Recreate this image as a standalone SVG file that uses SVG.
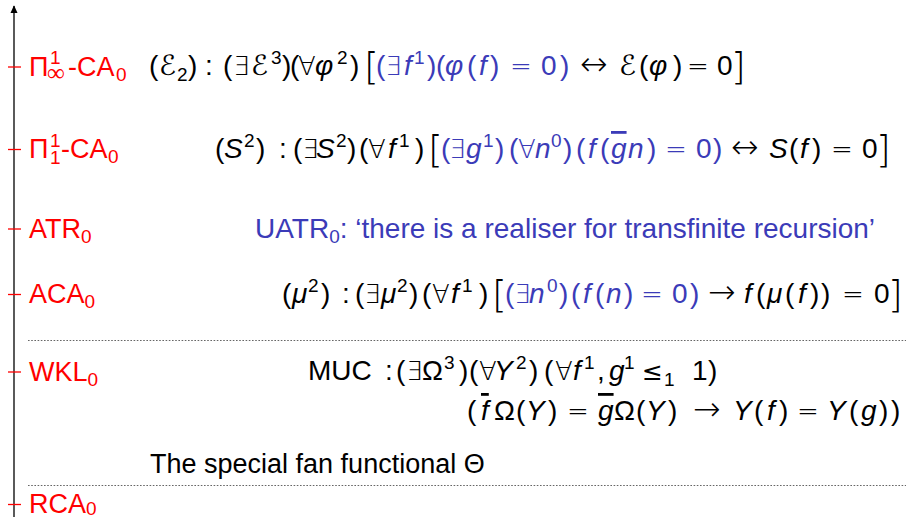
<svg xmlns="http://www.w3.org/2000/svg" width="906" height="517" viewBox="0 0 906 517">
<style>
text{font-family:"Liberation Sans","DejaVu Sans",sans-serif;font-size:28px;fill:#000}
.lab{fill:#ff0000;font-size:27px}
.b{fill:#3b3bb8}
.i{font-style:italic}
.s{font-size:19px}
.m{font-family:"DejaVu Sans",sans-serif;font-size:26px;font-weight:200}
.le{font-family:"DejaVu Sans",sans-serif;font-size:25px}
.ar{font-family:"DejaVu Sans",sans-serif;font-size:33px;font-weight:200}
.br{font-family:"DejaVu Sans",sans-serif;font-size:38px;font-weight:200}
.tick{stroke:#ff0000;stroke-width:1.3}
.dot{stroke:#666;stroke-width:1.2;stroke-dasharray:1.6 1.6}
</style>
<defs>
<marker id="ah" viewBox="0 0 10 10" refX="9" refY="5" markerWidth="8" markerHeight="8" markerUnits="userSpaceOnUse" orient="auto"><path d="M0,0.5 L10,5 L0,9.5 z" fill="#000"/></marker>
</defs>
<g id="connectors">
<line x1="14" y1="517" x2="14" y2="6" stroke="#000" stroke-width="1.3" marker-end="url(#ah)"/>
<line class="dot" x1="28" y1="340.5" x2="906" y2="340.5"/>
<line class="dot" x1="28" y1="485.5" x2="906" y2="485.5"/>
</g>
<g id="pi-inf">
<line class="tick" x1="8" y1="67" x2="21" y2="67"/>
<text class="lab" y="75.5"><tspan x="29">Π</tspan><tspan class="s" x="50" y="64">1</tspan><tspan x="47" y="81" style="font-family:'DejaVu Sans';font-size:25px;font-weight:200">∞</tspan><tspan x="68" y="75.5">-CA</tspan><tspan class="s" x="116" y="80.5">0</tspan></text>
<text y="75"><tspan x="149">(</tspan><tspan class="i" x="159">ℰ</tspan><tspan class="s" x="177" y="81">2</tspan><tspan x="188" y="75">)</tspan><tspan x="205">:</tspan><tspan x="223">(</tspan><tspan class="m" x="233">∃</tspan><tspan class="i" x="251">ℰ</tspan><tspan class="s" x="271" y="64">3</tspan><tspan x="282" y="75">)</tspan><tspan x="290">(</tspan><tspan class="m" x="298">∀</tspan><tspan class="i" x="315">φ</tspan><tspan class="s" x="337" y="64">2</tspan><tspan x="350" y="75">)</tspan><tspan class="br" x="364" y="79">[</tspan><tspan class="b" x="376" y="75">(</tspan><tspan class="b m" x="385">∃</tspan><tspan class="b i" x="404">f</tspan><tspan class="b s" x="414" y="64">1</tspan><tspan class="b" x="427" y="75">)</tspan><tspan class="b" x="436">(</tspan><tspan class="b i" x="445">φ</tspan><tspan class="b" x="467">(</tspan><tspan class="b i" x="479">f</tspan><tspan class="b" x="490">)</tspan><tspan class="b m" x="510">=</tspan><tspan class="b" x="541">0</tspan><tspan class="b" x="560">)</tspan><tspan class="ar" x="580">↔</tspan><tspan class="i" x="619">ℰ</tspan><tspan x="639">(</tspan><tspan class="i" x="649">φ</tspan><tspan x="673">)</tspan><tspan class="m" x="687">=</tspan><tspan x="717">0</tspan><tspan class="br" x="731" y="79">]</tspan></text>
</g>
<g id="pi-one">
<line class="tick" x1="8" y1="149.5" x2="21" y2="149.5"/>
<text class="lab" y="158"><tspan x="29">Π</tspan><tspan class="s" x="50" y="147">1</tspan><tspan class="s" x="50" y="164">1</tspan><tspan x="61" y="158">-CA</tspan><tspan class="s" x="108" y="163">0</tspan></text>
<text y="158"><tspan x="215">(</tspan><tspan class="i" x="224">S</tspan><tspan class="s" x="244" y="147">2</tspan><tspan x="256" y="158">)</tspan><tspan x="279">:</tspan><tspan x="293">(</tspan><tspan class="m" x="302">∃</tspan><tspan class="i" x="316">S</tspan><tspan class="s" x="336" y="147">2</tspan><tspan x="347" y="158">)</tspan><tspan x="359">(</tspan><tspan class="m" x="368">∀</tspan><tspan class="i" x="388">f</tspan><tspan class="s" x="399" y="147">1</tspan><tspan x="415" y="158">)</tspan><tspan class="br" x="428" y="162">[</tspan><tspan class="b" x="441" y="158">(</tspan><tspan class="b m" x="449">∃</tspan><tspan class="b i" x="466">g</tspan><tspan class="b s" x="483" y="147">1</tspan><tspan class="b" x="495" y="158">)</tspan><tspan class="b" x="509">(</tspan><tspan class="b m" x="518">∀</tspan><tspan class="b i" x="535">n</tspan><tspan class="b s" x="551" y="147">0</tspan><tspan class="b" x="563" y="158">)</tspan><tspan class="b" x="576">(</tspan><tspan class="b i" x="588">f</tspan><tspan class="b" x="600">(</tspan><tspan class="b i" x="611" text-decoration="overline">g</tspan><tspan class="b i" x="628">n</tspan><tspan class="b" x="647">)</tspan><tspan class="b m" x="665">=</tspan><tspan class="b" x="696">0</tspan><tspan class="b" x="713">)</tspan><tspan class="ar" x="731">↔</tspan><tspan class="i" x="769">S</tspan><tspan x="789">(</tspan><tspan class="i" x="800">f</tspan><tspan x="812">)</tspan><tspan class="m" x="831">=</tspan><tspan x="862">0</tspan><tspan class="br" x="876" y="162">]</tspan></text>
</g>
<g id="atr">
<line class="tick" x1="8" y1="229" x2="21" y2="229"/>
<text class="lab" y="238"><tspan x="29">ATR</tspan><tspan class="s" y="243">0</tspan></text>
<text class="b" x="255" y="238">UATR<tspan class="s" y="243">0</tspan><tspan y="238">: ‘there is a realiser for transfinite recursion’</tspan></text>
</g>
<g id="aca">
<line class="tick" x1="8" y1="294.5" x2="21" y2="294.5"/>
<text class="lab" y="303"><tspan x="29">ACA</tspan><tspan class="s" y="308">0</tspan></text>
<text y="303"><tspan x="282">(</tspan><tspan class="i" x="292">μ</tspan><tspan class="s" x="308" y="292">2</tspan><tspan x="321" y="303">)</tspan><tspan x="342">:</tspan><tspan x="355">(</tspan><tspan class="m" x="364">∃</tspan><tspan class="i" x="381">μ</tspan><tspan class="s" x="397" y="292">2</tspan><tspan x="409" y="303">)</tspan><tspan x="422">(</tspan><tspan class="m" x="432">∀</tspan><tspan class="i" x="451">f</tspan><tspan class="s" x="462" y="292">1</tspan><tspan x="479" y="303">)</tspan><tspan class="br" x="492" y="307">[</tspan><tspan class="b" x="505" y="303">(</tspan><tspan class="b m" x="514">∃</tspan><tspan class="b i" x="529">n</tspan><tspan class="b s" x="547" y="292">0</tspan><tspan class="b" x="559" y="303">)</tspan><tspan class="b" x="571">(</tspan><tspan class="b i" x="583">f</tspan><tspan class="b" x="595">(</tspan><tspan class="b i" x="606">n</tspan><tspan class="b" x="624">)</tspan><tspan class="b m" x="641">=</tspan><tspan class="b" x="672">0</tspan><tspan class="b" x="690">)</tspan><tspan class="ar" x="708">→</tspan><tspan class="i" x="744">f</tspan><tspan x="756">(</tspan><tspan class="i" x="767">μ</tspan><tspan x="785">(</tspan><tspan class="i" x="798">f</tspan><tspan x="810">)</tspan><tspan x="821">)</tspan><tspan class="m" x="842">=</tspan><tspan x="874">0</tspan><tspan class="br" x="888" y="307">]</tspan></text>
</g>
<g id="wkl">
<line class="tick" x1="8" y1="372" x2="21" y2="372"/>
<text class="lab" y="381"><tspan x="29">WKL</tspan><tspan class="s" y="386">0</tspan></text>
<text y="380"><tspan x="308">MUC</tspan><tspan x="385">:</tspan><tspan x="396">(</tspan><tspan class="m" x="406">∃</tspan><tspan x="422">Ω</tspan><tspan class="s" x="444" y="369">3</tspan><tspan x="459" y="380">)</tspan><tspan x="469">(</tspan><tspan class="m" x="479">∀</tspan><tspan class="i" x="494">Y</tspan><tspan class="s" x="516" y="369">2</tspan><tspan x="529" y="380">)</tspan><tspan x="544">(</tspan><tspan class="m" x="555">∀</tspan><tspan class="i" x="573">f</tspan><tspan class="s" x="584" y="369">1</tspan><tspan x="597" y="380">,</tspan><tspan class="i" x="609">g</tspan><tspan class="s" x="624" y="369">1</tspan><tspan class="le" x="642" y="380">≤</tspan><tspan class="s" x="664" y="386">1</tspan><tspan x="692" y="380">1</tspan><tspan x="708">)</tspan></text>
<text y="420"><tspan x="467">(</tspan><tspan class="i" x="481" text-decoration="overline">f</tspan><tspan x="494">Ω</tspan><tspan x="516">(</tspan><tspan class="i" x="526">Y</tspan><tspan x="548">)</tspan><tspan class="m" x="567">=</tspan><tspan class="i" x="598" text-decoration="overline">g</tspan><tspan x="614">Ω</tspan><tspan x="636">(</tspan><tspan class="i" x="646">Y</tspan><tspan x="668">)</tspan><tspan class="ar" x="693">→</tspan><tspan class="i" x="733">Y</tspan><tspan x="754">(</tspan><tspan class="i" x="767">f</tspan><tspan x="779">)</tspan><tspan class="m" x="797">=</tspan><tspan class="i" x="827">Y</tspan><tspan x="849">(</tspan><tspan class="i" x="861">g</tspan><tspan x="879">)</tspan><tspan x="891">)</tspan></text>
</g>
<g id="fan">
<text x="150" y="473" style="font-size:27px">The special fan functional Θ</text>
</g>
<g id="rca">
<line class="tick" x1="8" y1="504.5" x2="21" y2="504.5"/>
<text class="lab" y="512.5"><tspan x="29">RCA</tspan><tspan class="s" y="515">0</tspan></text>
</g>
</svg>
